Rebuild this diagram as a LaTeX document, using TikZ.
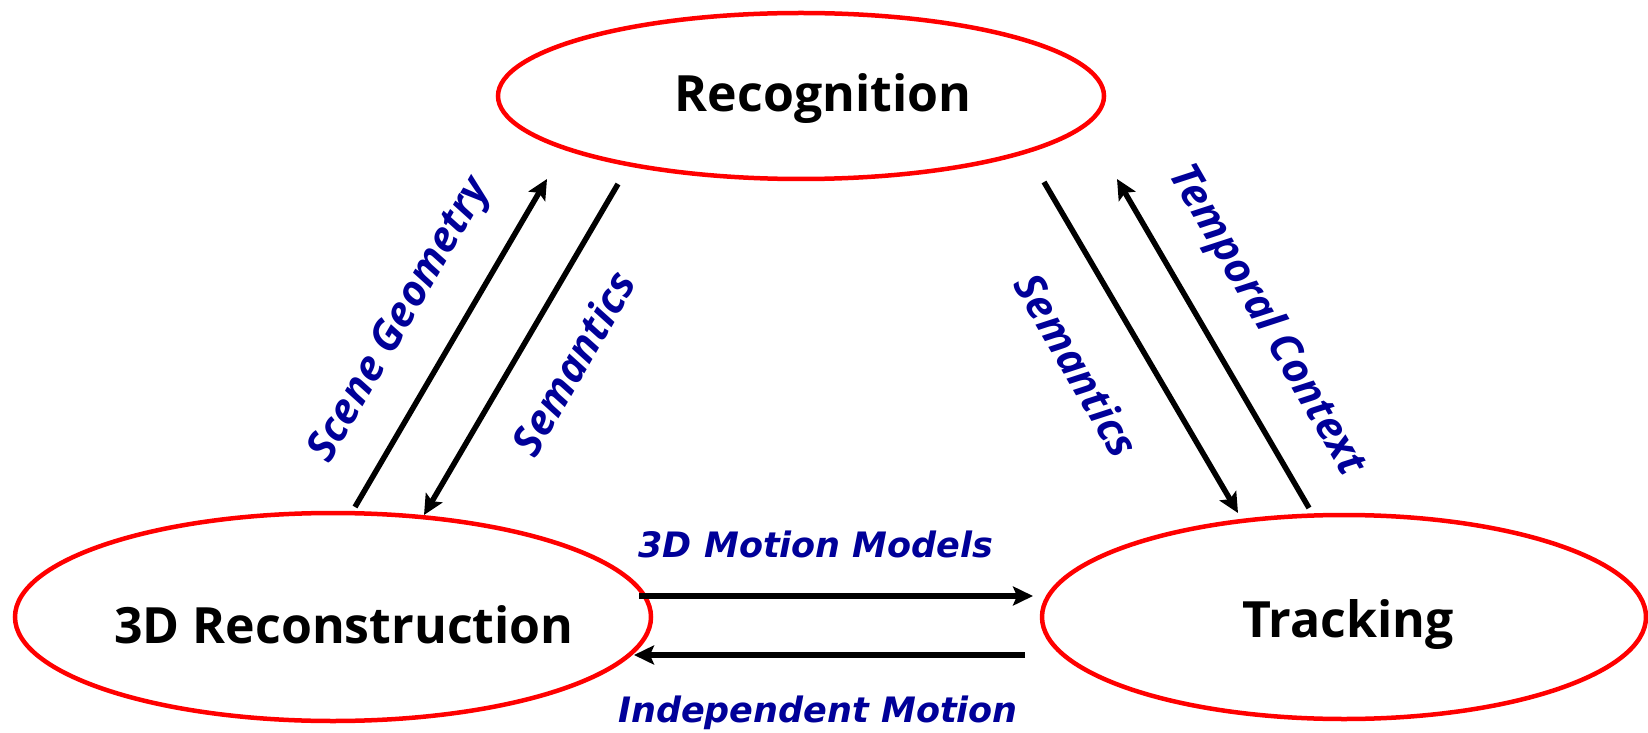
\documentclass[tikz,border=0pt]{standalone}
\usepackage{fontspec}
\setmainfont{Open Sans}
\newfontfamily\motionfont{DejaVu Sans}
\usetikzlibrary{shapes.geometric,arrows.meta}
\definecolor{labelblue}{RGB}{0,0,153}

\tikzset{
  task/.style={ellipse, draw=red, line width=4.5pt, inner sep=0pt},
  tasktext/.style={inner sep=0pt, font=\bfseries\fontsize{50}{56}\selectfont},
  link/.style={-{Stealth[length=20pt,width=19pt,inset=4pt]}, line width=5.5pt},
  linklabel/.style={text=labelblue, inner sep=0pt,
    font=\bfseries\itshape\fontsize{42}{48}\selectfont},
  motionlabel/.style={text=labelblue, inner sep=0pt,
    font=\motionfont\bfseries\itshape\fontsize{35}{40}\selectfont}
}

\begin{document}
\begin{tikzpicture}[x=1pt, y=1pt]
        \useasboundingbox (0,0) rectangle (1648,732);

        % Tasks
        \node[task, minimum width=606, minimum height=166] (rec) at (801,636) {};
        \node[task, minimum width=636, minimum height=208] (recon) at (333,115) {};
        \node[task, minimum width=604, minimum height=204] (track) at (1344,115) {};
        \node[tasktext] (rec-t) at ([xshift=22pt,yshift=-3pt]rec.center) {Recognition};
        \node[tasktext] (recon-t) at ([xshift=11pt,yshift=-8pt]recon.center) {3D Reconstruction};
        \node[tasktext] (track-t) at ([xshift=4pt,yshift=-8pt]track.center) {Tracking};

        % Arrow ends
        \coordinate (sg-a) at (355,225);  \coordinate (sg-b) at (547,553);
        \coordinate (sl-a) at (618,548);  \coordinate (sl-b) at (424,217);
        \coordinate (sr-a) at (1044,550); \coordinate (sr-b) at (1238,219);
        \coordinate (tc-a) at (1309,224); \coordinate (tc-b) at (1117,553);
        \coordinate (mm-a) at (639,136);  \coordinate (mm-b) at (1033,136);
        \coordinate (im-a) at (1025,77);  \coordinate (im-b) at (634,77);

        % Links
        \draw[link] (sg-a) -- (sg-b);
        \draw[link] (sl-a) -- (sl-b);
        \draw[link] (sr-a) -- (sr-b);
        \draw[link] (tc-a) -- (tc-b);
        \draw[link] (mm-a) -- (mm-b);
        \draw[link] (im-a) -- (im-b);

        % Labels
        \node[linklabel, rotate=60] (sg) at (401,411) {Scene Geometry};
        \node[linklabel, rotate=60] (sl) at (573,369) {Semantics};
        \node[linklabel, rotate=-60] (sr) at (1077,367) {Semantics};
        \node[linklabel, rotate=-60] (tc) at (1266,411) {Temporal Context};
        \node[motionlabel] (mm) at (816,188) {3D Motion Models};
        \node[motionlabel] (im) at (818,19) {Independent Motion};

    \end{tikzpicture}
\end{document}
